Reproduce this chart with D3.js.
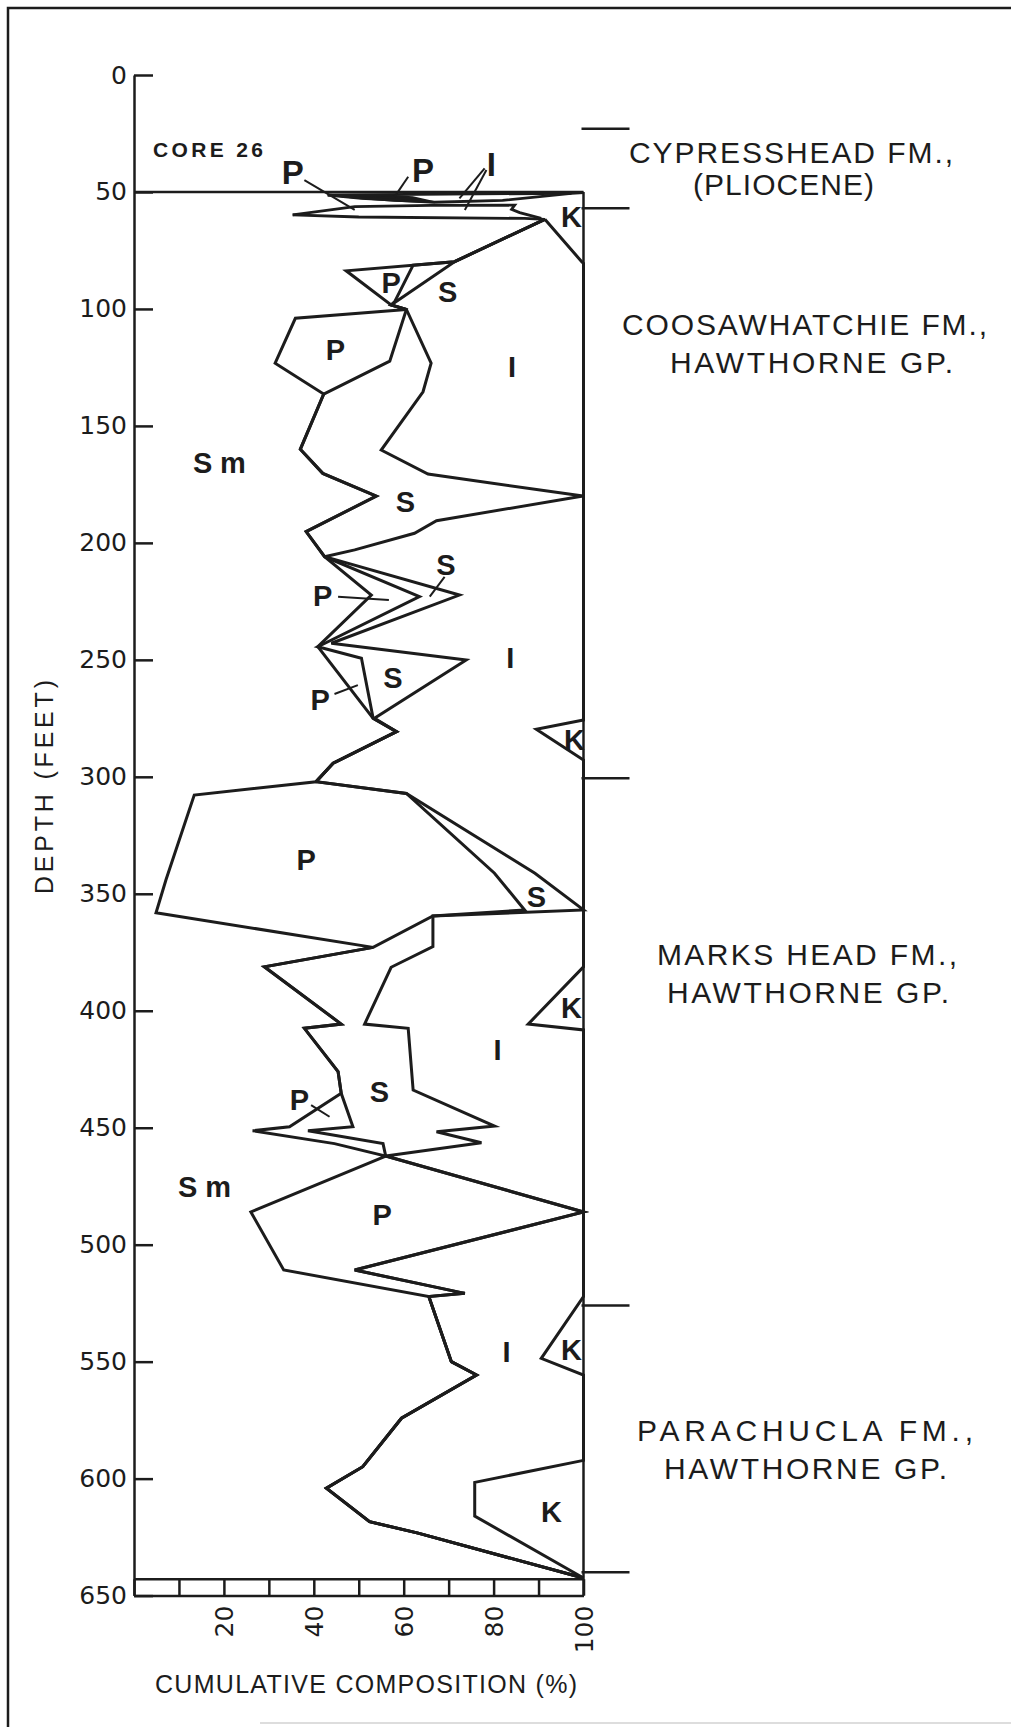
<!DOCTYPE html>
<html>
<head>
<meta charset="utf-8">
<script src="https://cdn.jsdelivr.net/npm/d3@7"></script>
<style>
  body { margin: 0; background: #fff; }
  svg { display: block; }
</style>
</head>
<body>
<div id="chart"></div>
<script>
// Core 26 - cumulative clay mineral composition vs depth
// each boundary is a list of [depth (ft), cumulative %]

// top of smectite (Sm / P)
var smTop = [
  [61.7, 91.4], [79.8, 71.3], [83.7, 47.2], [98.3, 57.2], [100.2, 60.6], [104.0, 35.9],
  [123.2, 31.4], [136.4, 42.2], [160.0, 37.0], [170.3, 42.0], [180.0, 53.9], [195.2, 38.3],
  [205.9, 42.4], [222.3, 52.8], [244.4, 40.9], [275.0, 53.2], [280.7, 58.4], [294.2, 44.3],
  [302.1, 40.5], [307.8, 13.4], [344.1, 7.1], [358.1, 4.9], [372.9, 53.2], [381.2, 29.0],
  [405.7, 46.1], [407.5, 37.9], [426.0, 45.4], [435.3, 46.1], [449.6, 34.6], [451.3, 26.4],
  [456.8, 44.6], [462.1, 56.0], [486.0, 26.0], [510.8, 33.3], [522.2, 65.6], [550.0, 70.6],
  [555.7, 76.2], [574.2, 59.5], [594.9, 50.9], [604.1, 42.8], [618.4, 52.4], [623.3, 63.2],
  [642.5, 100]
];

// top of palygorskite (P / S)
var pTop = [
  [61.7, 91.4], [79.8, 71.3], [81.3, 62.1], [96.9, 58.0], [98.3, 57.2], [100.2, 60.6],
  [122.3, 56.9], [136.4, 42.2], [160.0, 37.0], [170.3, 42.0], [180.0, 53.9], [195.2, 38.3],
  [205.9, 42.4], [223.0, 63.5], [244.4, 40.9], [249.3, 50.6], [275.0, 53.2], [280.7, 58.4],
  [294.2, 44.3], [302.1, 40.5], [307.1, 60.6], [341.2, 80.2], [356.9, 86.9], [359.5, 66.5],
  [372.9, 53.2], [381.2, 29.0], [405.7, 46.1], [407.5, 37.9], [426.0, 45.4], [435.3, 46.1],
  [449.6, 48.7], [451.3, 38.7], [456.8, 55.4], [462.1, 56.0], [486.0, 100], [510.8, 49.1],
  [520.8, 73.6], [522.2, 65.6], [550.0, 70.6], [555.7, 76.2], [574.2, 59.5], [594.9, 50.9],
  [604.1, 42.8], [618.4, 52.4], [623.3, 63.2], [642.5, 100]
];

// top of sepiolite (S / I)
var sTop = [
  [61.7, 91.4], [79.8, 71.3], [98.3, 57.2], [100.2, 60.6], [123.2, 66.1], [135.4, 64.3],
  [160.3, 55.0], [170.6, 65.4], [180.0, 99.9], [190.5, 67.3], [195.9, 62.4], [203.0, 49.1],
  [205.9, 42.4], [222.3, 72.4], [242.9, 43.9], [250.1, 73.9], [275.0, 53.5], [280.7, 58.4],
  [294.2, 44.3], [302.1, 40.5], [307.1, 60.6], [341.2, 89.2], [356.9, 100], [359.5, 66.5],
  [372.6, 66.5], [381.4, 57.2], [405.7, 51.3], [407.5, 61.0], [433.9, 62.1], [449.3, 80.2],
  [451.7, 67.3], [456.4, 77.3], [462.1, 56.0], [486.0, 100], [510.8, 49.1], [520.8, 73.6],
  [522.2, 65.6], [550.0, 70.6], [555.7, 76.2], [574.2, 59.5], [594.9, 50.9], [604.1, 42.8],
  [618.4, 52.4], [623.3, 63.2], [642.5, 100]
];

// top of illite (I / K)
var iTop = [
  [61.7, 91.4], [79.8, 99.6], [80.5, 100], [275.7, 100], [279.7, 89.5], [292.8, 100],
  [381.2, 100], [405.7, 87.7], [408.2, 100], [522.2, 100], [548.6, 90.6], [555.7, 100],
  [592.2, 100], [601.6, 75.8], [616.0, 75.8], [642.5, 100]
];

// thin slivers at the top of the core (50-62 ft)
var topSlivers = [
  [[50.3, 100], [50.6, 97.3], [50.9, 70], [51.3, 43.1]],
  [[51.3, 43.1], [52.7, 50.6], [54.4, 66.9], [53.6, 82], [50.6, 97.3]],
  [[59.8, 35.3], [56.3, 49.1], [55.7, 66], [55.6, 84.7], [57.4, 84.0], [58.8, 85.8], [61.3, 90.6]],
  [[59.8, 35.3], [60.7, 50], [61.3, 86.9], [61.7, 91.4]]
];
var darkSliver = [[51.3, 43.1], [51.4, 55], [52.3, 62], [54.4, 66.9], [53.8, 58], [52.7, 50.6]];

var depthTicks = d3.range(0, 651, 50);
var pctTicks = d3.range(0, 101, 10);
var pctLabels = [20, 40, 60, 80, 100];
var formationTops = [23, 57, 300.6, 526, 640];
var formationNames = [
  "CYPRESSHEAD FM.,", "(PLIOCENE)",
  "COOSAWHATCHIE FM.,", "HAWTHORNE GP.",
  "MARKS HEAD FM.,", "HAWTHORNE GP.",
  "PARACHUCLA FM.,", "HAWTHORNE GP."
];
var mineralNames = ["P", "P", "I", "K", "P", "S", "P", "I", "Sm", "S", "S", "P", "I", "S",
  "P", "K", "P", "S", "K", "I", "S", "P", "Sm", "P", "I", "K", "K"];

var width = 1011, height = 1727;
var ink = "#1c1c1c";

var svg = d3.select("#chart").append("svg")
    .attr("width", width)
    .attr("height", height);

svg.append("rect").attr("width", width).attr("height", height).attr("fill", "#fff");

// page frame
svg.append("path")
    .attr("d", "M8,1727V8H1011")
    .attr("fill", "none").attr("stroke", ink).attr("stroke-width", 2.5);
svg.append("line")
    .attr("x1", 260).attr("x2", 1011).attr("y1", 1723).attr("y2", 1723)
    .attr("stroke", "#ddd").attr("stroke-width", 2);

var x = d3.scaleLinear().domain([0, 100]).range([134, 583.5]);
var y = d3.scaleLinear().domain([0, 650]).range([75, 1595.6]);
var stripTop = 643;

// depth axis, ticks point into the plot
var yAxis = svg.append("g")
    .attr("transform", "translate(" + x(0) + ",0)")
    .call(d3.axisLeft(y).tickValues(depthTicks).tickSizeInner(-19).tickSizeOuter(0).tickPadding(7));
yAxis.attr("font-family", "DejaVu Sans").attr("font-size", 25);
yAxis.selectAll("path, line").attr("stroke", ink).attr("stroke-width", 2.5);
yAxis.selectAll("text").attr("fill", ink);

// composition axis: boxed strip with ticks
var xAxis = svg.append("g")
    .attr("transform", "translate(0," + y(650) + ")")
    .call(d3.axisBottom(x).tickValues(pctTicks)
        .tickSizeInner(-(y(650) - y(stripTop))).tickSizeOuter(0)
        .tickFormat(function(d) { return pctLabels.indexOf(d) >= 0 ? d : ""; }));
xAxis.attr("font-family", "DejaVu Sans").attr("font-size", 25);
xAxis.selectAll("path, line").attr("stroke", ink).attr("stroke-width", 2.5);
xAxis.selectAll("text")
    .attr("fill", ink)
    .attr("transform", "rotate(-90)")
    .attr("x", -10).attr("y", 0).attr("dy", "0.36em")
    .style("text-anchor", "end");

// plot box: top at 50 ft, right edge at 100 %, strip top
svg.append("line").attr("x1", x(0)).attr("x2", x(100)).attr("y1", y(50)).attr("y2", y(50))
    .attr("stroke", ink).attr("stroke-width", 2.5);
svg.append("line").attr("x1", x(100)).attr("x2", x(100)).attr("y1", y(50)).attr("y2", y(650))
    .attr("stroke", ink).attr("stroke-width", 2.5);
svg.append("line").attr("x1", x(0)).attr("x2", x(100)).attr("y1", y(stripTop)).attr("y2", y(stripTop))
    .attr("stroke", ink).attr("stroke-width", 2.5);

// boundaries
var line = d3.line()
    .x(function(d) { return x(d[1]); })
    .y(function(d) { return y(d[0]); });

[smTop, pTop, sTop, iTop].forEach(function(b) {
    svg.append("path").datum(b)
        .attr("d", line)
        .attr("fill", "none").attr("stroke", ink).attr("stroke-width", 3);
});

svg.append("path")
    .attr("d", line(darkSliver) + "Z")
    .attr("fill", ink).attr("stroke", ink).attr("stroke-width", 2);

topSlivers.forEach(function(b) {
    svg.append("path").datum(b)
        .attr("d", line)
        .attr("fill", "none").attr("stroke", ink).attr("stroke-width", 2.8);
});

// formation contacts
svg.selectAll(".contact")
    .data(formationTops)
    .enter()
    .append("line")
    .attr("x1", x(100) - 2).attr("x2", x(100) + 46)
    .attr("y1", function(d) { return y(d); })
    .attr("y2", function(d) { return y(d); })
    .attr("stroke", ink).attr("stroke-width", 2.5);

// formation names
var nameSpots = [
    [629, 163, 324], [693, 194.5, 181],
    [622, 335, 365], [670, 373, 283],
    [657, 965, 300], [667, 1003, 282],
    [637, 1441, 336], [664, 1479, 283]
];
svg.selectAll(".fm")
    .data(formationNames)
    .enter()
    .append("text")
    .attr("x", function(d, i) { return nameSpots[i][0]; })
    .attr("y", function(d, i) { return nameSpots[i][1]; })
    .attr("textLength", function(d, i) { return nameSpots[i][2]; })
    .attr("lengthAdjust", "spacing")
    .attr("font-family", "Liberation Sans, Arial, sans-serif")
    .attr("font-size", 30)
    .attr("fill", ink)
    .text(function(d) { return d; });

// mineral labels, placed at [%, depth]
var mineralSpots = [
    [35.3, 46.6], [64.3, 45.6], [79.5, 43.0], [97.3, 64.8], [57.2, 93.3], [69.8, 96.9],
    [44.8, 121.8], [84.1, 129.0], [19.0, 170.3], [60.4, 186.7], [69.4, 213.7], [42.0, 227.0],
    [83.7, 253.6], [57.6, 262.2], [41.4, 271.4], [98.0, 288.5], [38.3, 339.8], [89.5, 355.5],
    [97.3, 403.2], [80.9, 421.0], [54.6, 438.9], [36.8, 442.4], [15.7, 479.7], [55.2, 491.6],
    [82.9, 550.0], [97.3, 549.3], [92.9, 618.4]
];
svg.selectAll(".min")
    .data(mineralNames)
    .enter()
    .append("text")
    .attr("x", function(d, i) { return x(mineralSpots[i][0]); })
    .attr("y", function(d, i) { return y(mineralSpots[i][1]); })
    .attr("text-anchor", "middle")
    .attr("font-family", "Liberation Sans, Arial, sans-serif")
    .attr("font-weight", "bold")
    .attr("font-size", function(d, i) { return i < 3 ? 33 : 29; })
    .attr("fill", ink)
    .each(function(d) {
        if (d === "Sm") d3.select(this).attr("textLength", 53).attr("lengthAdjust", "spacing");
    })
    .text(function(d) { return d; });

// leader lines from labels
var pointers = [
    [[44.9, 37.9], [57.7, 49.1]],
    [[43.5, 61.0], [52.0, 58.0]],
    [[39.9, 78.0], [52.7, 72.4]],
    [[40.6, 78.4], [57.7, 73.6]],
    [[223.0, 45.4], [224.4, 56.7]],
    [[214.5, 69.1], [223.0, 65.8]],
    [[264.6, 44.6], [260.8, 49.8]],
    [[440.3, 39.4], [445.3, 43.5]]
];
pointers.forEach(function(p) {
    svg.append("path").datum(p)
        .attr("d", line)
        .attr("fill", "none").attr("stroke", ink).attr("stroke-width", 2);
});

// titles
svg.append("text")
    .attr("x", 153).attr("y", 157)
    .attr("textLength", 110).attr("lengthAdjust", "spacing")
    .attr("font-family", "Liberation Sans, Arial, sans-serif")
    .attr("font-weight", "bold")
    .attr("font-size", 21)
    .attr("fill", ink)
    .text("CORE 26");

svg.append("text")
    .attr("transform", "translate(53,787) rotate(-90)")
    .attr("text-anchor", "middle")
    .attr("textLength", 214).attr("lengthAdjust", "spacing")
    .attr("font-family", "Liberation Sans, Arial, sans-serif")
    .attr("font-size", 25)
    .attr("fill", ink)
    .text("DEPTH (FEET)");

svg.append("text")
    .attr("x", 155).attr("y", 1693)
    .attr("textLength", 422).attr("lengthAdjust", "spacing")
    .attr("font-family", "Liberation Sans, Arial, sans-serif")
    .attr("font-size", 25)
    .attr("fill", ink)
    .text("CUMULATIVE COMPOSITION (%)");
</script>
</body>
</html>
